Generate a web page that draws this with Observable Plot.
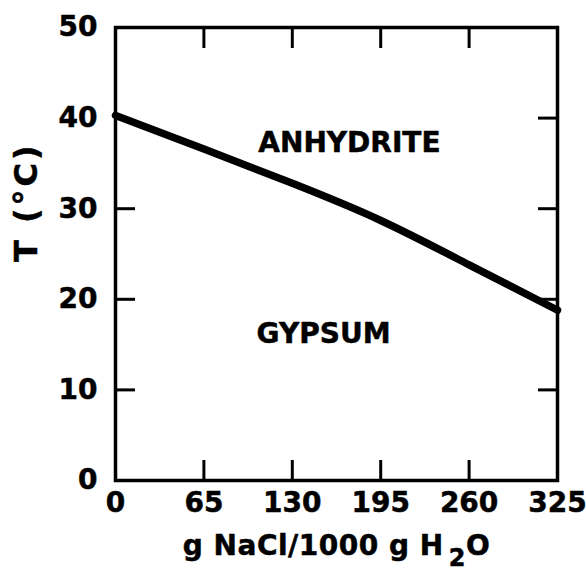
<!DOCTYPE html>
<html>
<head>
<meta charset="utf-8">
<script src="https://cdn.jsdelivr.net/npm/d3@7"></script>
<script src="https://cdn.jsdelivr.net/npm/@observablehq/plot@0.6"></script>
<style>
  html, body { margin: 0; padding: 0; background: white; }
</style>
</head>
<body>
<div id="chart"></div>
<script>
// Data
const salinity = [0, 65, 130, 195, 260, 325];          // g NaCl / 1000 g H2O
const temperature = [40.3, 36.6, 32.8, 28.7, 23.8, 18.8]; // °C, gypsum–anhydrite boundary
const xTickValues = [65, 130, 195, 260];
const xLabelValues = [0, 65, 130, 195, 260, 325];
const yLabelValues = [0, 10, 20, 30, 40, 50];
const yTicksLeft = [10, 20, 30];
const yTicksRight = [10, 20, 30, 40];
const regionNames = ["ANHYDRITE", "GYPSUM"];
const regionX = [172, 153];
const regionY = [37.2, 16.2];
const xTitle = "g NaCl/1000 g H2O";
const yTitle = "T (°C)";

const boundary = salinity.map((s, i) => ({s, t: temperature[i]}));
const regions = regionNames.map((name, i) => ({name, x: regionX[i], y: regionY[i]}));

const font = "DejaVu Sans";
const textStroke = {stroke: "black", strokeWidth: 0.5};

const chart = Plot.plot({
  width: 586,
  height: 573,
  marginLeft: 115,
  marginRight: 29,
  marginTop: 27,
  marginBottom: 93,
  x: {domain: [0, 325], axis: null},
  y: {domain: [0, 50], axis: null},
  style: {fontFamily: font, fontWeight: "bold", color: "black", background: "white"},
  marks: [
    Plot.axisX(xTickValues, {anchor: "bottom", tickSize: -20, strokeWidth: 3, fill: "none", label: null}),
    Plot.axisX(xTickValues, {anchor: "top", tickSize: -20, strokeWidth: 3, fill: "none", label: null}),
    Plot.axisY(yTicksLeft, {anchor: "left", tickSize: -20, strokeWidth: 3, fill: "none", label: null}),
    Plot.axisY(yTicksRight, {anchor: "right", tickSize: -20, strokeWidth: 3, fill: "none", label: null}),
    Plot.axisX(xLabelValues, {anchor: "bottom", tickSize: 0, tickPadding: 12, fontSize: 28, label: null, textStroke: "black", textStrokeWidth: 0.5}),
    Plot.axisY(yLabelValues, {anchor: "left", tickSize: 0, tickPadding: 18, fontSize: 28, label: null, textStroke: "black", textStrokeWidth: 0.5}),
    Plot.frame({strokeWidth: 3.5, stroke: "black"}),
    Plot.line(boundary, {x: "s", y: "t", curve: "natural", stroke: "black", strokeWidth: 7.5}),
    Plot.text(regions, {x: "x", y: "y", text: "name", fontSize: 28, fill: "black", ...textStroke}),
    Plot.text([xTitle], {frameAnchor: "bottom", lineAnchor: "bottom", dy: 74, fontSize: 28, fill: "black", ...textStroke}),
    Plot.text([yTitle], {frameAnchor: "left", rotate: -90, dx: -89, dy: 8, fontSize: 32, fill: "black", lineAnchor: "middle", ...textStroke})
  ]
});

document.getElementById("chart").appendChild(chart);

// subscript in x title, letter spacing in y title
d3.select(chart).selectAll("text").each(function() {
  const t = d3.select(this);
  const content = t.text();
  if (content === xTitle) {
    t.text(null).style("letter-spacing", "0.5px");
    t.append("tspan").text("g NaCl/1000 g H");
    t.append("tspan").attr("dx", 5).attr("dy", 11).attr("font-size", 24).text("2");
    t.append("tspan").attr("dy", -11).text("O");
  } else if (content === yTitle) {
    t.style("letter-spacing", "3px");
  }
});
</script>
</body>
</html>
